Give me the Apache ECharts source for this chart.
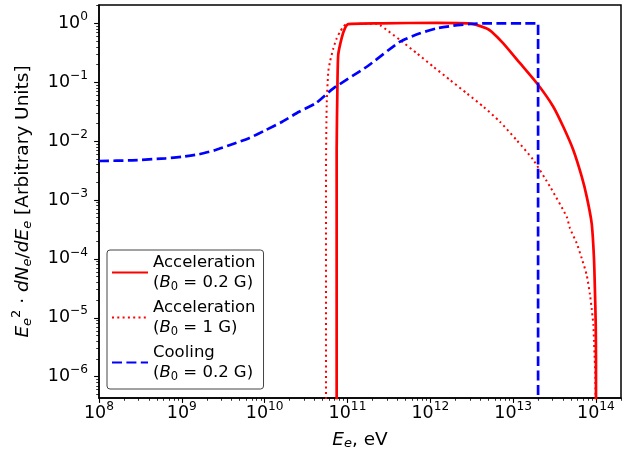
<!DOCTYPE html>
<html>
<head>
<meta charset="utf-8">
<script src="https://cdn.jsdelivr.net/npm/echarts@6/dist/echarts.min.js"></script>
<style>html,body{margin:0;padding:0;background:#fff}</style>
</head>
<body>
<div id="main" style="width:627px;height:456px"></div>
<script>
// electron energy E_e (eV) and E^2 dN/dE (arbitrary units)
// values of 1e-8 just mean "falls off below the bottom of the axis"
var accel02E = [7.4e10, 7.4e10, 7.55e10, 7.73e10, 8.5e10, 9.3e10, 1.02e11, 2.5e11, 1.2e12, 3.0e12,
  4.8e12, 5.5e12, 7.6e12, 1.21e13, 2.01e13, 3.05e13, 4.03e13, 5.32e13, 6.73e13, 7.73e13,
  8.87e13, 9.46e13, 9.72e13, 9.93e13, 1.0e14, 1.0e14];
var accel02Y = [1e-8, 7e-3, 0.074, 0.29, 0.56, 0.82, 0.97, 1.0, 1.02, 1.0,
  0.82, 0.72, 0.457, 0.21, 0.0895, 0.0384, 0.0175, 7.06e-3, 2.49e-3, 1.14e-3,
  4.02e-4, 1.02e-4, 2.77e-5, 7.55e-6, 2.05e-6, 1e-8];

var accel1E = [5.5e10, 5.5e10, 5.61e10, 5.86e10, 6.15e10, 6.75e10, 7.41e10, 8.13e10, 8.89e10, 9.77e10,
  2.2e11, 2.47e11, 4.31e11, 6.86e11, 1.09e12, 1.73e12, 2.75e12, 4.37e12, 6.93e12, 1.1e13,
  1.75e13, 2.79e13, 4.43e13, 4.85e13, 5.85e13, 6.73e13, 7.73e13, 8.47e13, 8.87e13, 9.29e13,
  9.46e13, 9.64e13, 9.82e13, 1.0e14];
var accel1Y = [1e-8, 3e-3, 0.041, 0.151, 0.223, 0.377, 0.556, 0.72, 0.875, 0.973,
  0.98, 0.935, 0.52, 0.31, 0.183, 0.109, 0.0649, 0.0384, 0.0213, 0.0104,
  4.78e-3, 1.68e-3, 5.2e-4, 3.31e-4, 1.84e-4, 1.02e-4, 5.33e-5, 2.44e-5, 1.45e-5, 7.55e-6,
  3.93e-6, 2.05e-6, 1.07e-6, 1e-8];

var coolE = [1e8, 2.52e8, 6.38e8, 1.01e9, 1.61e9, 2.56e9, 4.06e9, 6.47e9, 1.03e10, 1.63e10,
  2.6e10, 4.13e10, 6.75e10, 1.71e11, 4.31e11, 7.5e11, 1.19e12, 1.89e12, 3.01e12, 4.8e12,
  1.9e13, 2.0e13, 2.0e13];
var coolY = [4.59e-3, 4.72e-3, 5.1e-3, 5.43e-3, 5.97e-3, 7.06e-3, 8.83e-3, 0.0112, 0.0154, 0.0213,
  0.0315, 0.0439, 0.0787, 0.183, 0.488, 0.676, 0.822, 0.91, 0.973, 1.0,
  1.0, 1.0, 1e-8];

// decade exponents for the tick labels
var xTickExp = [8, 9, 10, 11, 12, 13, 14];
var yTickExp = [-6, -5, -4, -3, -2, -1, 0];
var xRange = [8, 14.302];
var yRange = [-6.362, 0.311];

var FONT = 'DejaVu Sans';

function toLog(xs, ys) {
  return xs.map(function (x, i) { return [Math.log10(x), Math.log10(ys[i])]; });
}

// minor ticks at 2..9 x 10^n, like matplotlib
function minorTicks(lo, hi) {
  var out = [];
  for (var n = Math.floor(lo); n <= Math.ceil(hi); n++) {
    for (var k = 2; k <= 9; k++) {
      var v = n + Math.log10(k);
      if (v > lo && v < hi) out.push(v);
    }
  }
  return out;
}

function powLabel(v) {
  var e = Math.round(v);
  return '{b|10}{s|' + (e < 0 ? '\u2212' + (-e) : e) + '}';
}

var tickRich = {
  b: { fontFamily: FONT, fontSize: 17.5, color: '#000', lineHeight: 20 },
  s: { fontFamily: FONT, fontSize: 12.2, color: '#000', lineHeight: 14, padding: [0, 0, 13, 0] }
};

var titleRich = {
  i: { fontFamily: FONT, fontSize: 18.5, fontStyle: 'italic', color: '#000' },
  si: { fontFamily: FONT, fontSize: 13, fontStyle: 'italic', color: '#000', padding: [8, 0, 0, 0] },
  su: { fontFamily: FONT, fontSize: 13, color: '#000', padding: [0, 0, 14, 0] },
  n: { fontFamily: FONT, fontSize: 18.5, color: '#000' }
};

var legendText = {
  accel02: '{n|Acceleration}\n{n|(}{i|B}{d|0}{n| = 0.2 G)}',
  accel1: '{n|Acceleration}\n{n|(}{i|B}{d|0}{n| = 1 G)}',
  cool: '{n|Cooling}\n{n|(}{i|B}{d|0}{n| = 0.2 G)}'
};

var myChart = echarts.init(document.getElementById('main'));

var minorTickStyle = { show: true, length: 2.8, lineStyle: { color: '#000', width: 0.8 } };

myChart.setOption({
  animation: false,
  grid: { left: 99, right: 6, top: 5, bottom: 58, show: true, borderColor: '#000', borderWidth: 1.5 },
  legend: {
    orient: 'vertical',
    left: 107,
    top: 250,
    padding: [4, 8, 6, 4],
    itemWidth: 36,
    itemHeight: 14,
    itemGap: 6,
    selectedMode: false,
    backgroundColor: 'rgba(255,255,255,0.8)',
    borderColor: '#444',
    borderWidth: 1,
    borderRadius: 3,
    itemStyle: { opacity: 0 },
    data: ['accel02', 'accel1', 'cool'],
    formatter: function (name) { return legendText[name]; },
    textStyle: {
      rich: {
        n: { fontFamily: FONT, fontSize: 16.5, color: '#000', lineHeight: 20 },
        i: { fontFamily: FONT, fontSize: 16.5, fontStyle: 'italic', color: '#000', lineHeight: 20 },
        d: { fontFamily: FONT, fontSize: 11.5, color: '#000', lineHeight: 14, padding: [9, 0, 0, 0] }
      }
    }
  },
  xAxis: [{
    type: 'value',
    min: xRange[0],
    max: xRange[1],
    splitLine: { show: false },
    axisLine: { onZero: false, lineStyle: { color: '#000', width: 1.5 } },
    axisTick: { length: 4.9, lineStyle: { color: '#000', width: 1.1 }, customValues: xTickExp },
    axisLabel: { margin: 5, formatter: powLabel, rich: tickRich, customValues: xTickExp },
    name: '{i|E}{si|e}{n|, eV}',
    nameLocation: 'middle',
    nameGap: 29,
    nameTextStyle: { rich: titleRich }
  }, {
    type: 'value',
    position: 'bottom',
    offset: 0,
    min: xRange[0],
    max: xRange[1],
    splitLine: { show: false },
    axisLine: { show: false, onZero: false },
    axisLabel: { show: false },
    axisTick: Object.assign({ customValues: minorTicks(xRange[0], xRange[1]) }, minorTickStyle)
  }],
  yAxis: [{
    type: 'value',
    min: yRange[0],
    max: yRange[1],
    splitLine: { show: false },
    axisLine: { onZero: false, lineStyle: { color: '#000', width: 1.5 } },
    axisTick: { length: 4.9, lineStyle: { color: '#000', width: 1.1 }, customValues: yTickExp },
    axisLabel: { margin: 11, formatter: powLabel, rich: tickRich, customValues: yTickExp },
    name: '{i|E}{si|e}{su|2}{n| \u00b7 }{i|dN}{si|e}{n|/}{i|dE}{si|e}{n| [Arbitrary Units]}',
    nameLocation: 'middle',
    nameGap: 62,
    nameTextStyle: { rich: titleRich }
  }, {
    type: 'value',
    position: 'left',
    offset: 0,
    min: yRange[0],
    max: yRange[1],
    splitLine: { show: false },
    axisLine: { show: false, onZero: false },
    axisLabel: { show: false },
    axisTick: Object.assign({ customValues: minorTicks(yRange[0], yRange[1]) }, minorTickStyle)
  }],
  series: [{
    name: 'accel02',
    type: 'line',
    symbol: 'none',
    smooth: 0.2,
    clip: true,
    data: toLog(accel02E, accel02Y),
    lineStyle: { color: '#ff0000', width: 2.7 },
    itemStyle: { color: '#ff0000' }
  }, {
    name: 'accel1',
    type: 'line',
    symbol: 'none',
    smooth: 0.2,
    clip: true,
    data: toLog(accel1E, accel1Y),
    lineStyle: { color: '#ff0000', width: 2, type: [2, 3.3] },
    itemStyle: { color: '#ff0000' }
  }, {
    name: 'cool',
    type: 'line',
    symbol: 'none',
    smooth: 0.2,
    clip: true,
    data: toLog(coolE, coolY),
    lineStyle: { color: '#0000ff', width: 2.7, type: [10, 4.4] },
    itemStyle: { color: '#0000ff' }
  }]
});
</script>
</body>
</html>
